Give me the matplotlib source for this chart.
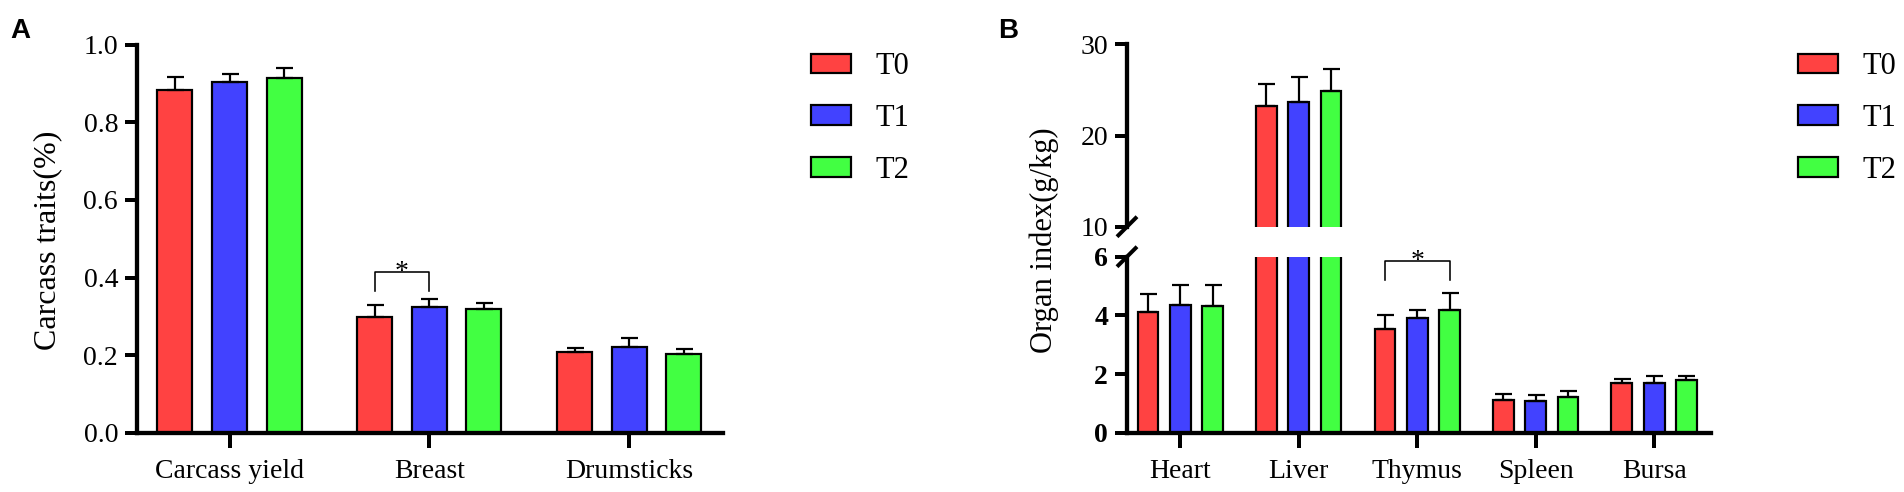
import matplotlib
matplotlib.use('Agg')
import matplotlib.pyplot as plt
import numpy as np
from matplotlib.lines import Line2D
from matplotlib.patches import Patch
from matplotlib.transforms import ScaledTranslation

# Carcass traits (panel A)
carcass_groups = ['Carcass yield', 'Breast', 'Drumsticks']
carcass_t0 = [0.882, 0.297, 0.209]
carcass_t1 = [0.903, 0.325, 0.220]
carcass_t2 = [0.913, 0.320, 0.204]
carcass_t0_sd = [0.035, 0.033, 0.010]
carcass_t1_sd = [0.022, 0.020, 0.023]
carcass_t2_sd = [0.028, 0.014, 0.012]

# Organ index (panel B)
organ_groups = ['Heart', 'Liver', 'Thymus', 'Spleen', 'Bursa']
organ_t0 = [4.11, 23.22, 3.52, 1.12, 1.68]
organ_t1 = [4.34, 23.66, 3.92, 1.09, 1.70]
organ_t2 = [4.31, 24.84, 4.18, 1.21, 1.80]
organ_t0_sd = [0.61, 2.42, 0.48, 0.21, 0.14]
organ_t1_sd = [0.70, 2.71, 0.27, 0.21, 0.22]
organ_t2_sd = [0.71, 2.41, 0.59, 0.20, 0.12]

series_names = ['T0', 'T1', 'T2']
colors = ['#FF4242', '#4242FF', '#42FF42']

# significance: (group index, series a, series b, bracket top, leg bottom)
carcass_sig = [(1, 0, 1, 0.413, 0.365)]
organ_sig = [(2, 0, 2, 5.87, 5.21)]

plt.rcParams['font.family'] = 'serif'
plt.rcParams['font.serif'] = ['Liberation Serif', 'DejaVu Serif']

W, H = 1904, 492
fig = plt.figure(figsize=(W / 100, H / 100), dpi=100)

def frac(x0, y0, x1, y1):
    return [x0 / W, 1 - y1 / H, (x1 - x0) / W, (y1 - y0) / H]

bw = 0.175
offs = [-0.273, 0.0, 0.273]
px = 72 / 100  # points per pixel

def style_axis(ax):
    for s in ['top', 'right']:
        ax.spines[s].set_visible(False)
    for s in ['left', 'bottom']:
        ax.spines[s].set_linewidth(4.3 * px)
    ax.tick_params(axis='y', length=12 * px, width=4 * px, labelsize=20, pad=5)
    ax.tick_params(axis='x', length=15 * px, width=4 * px, labelsize=20, pad=8)

def draw_bars(ax, means, sds):
    x = np.arange(len(means[0]))
    for i in range(3):
        ax.bar(x + offs[i], means[i], width=bw, color=colors[i], edgecolor='black',
               linewidth=2.2 * px, zorder=2, label=series_names[i])
        ax.errorbar(x + offs[i], means[i], yerr=[np.zeros(len(sds[i])), sds[i]], fmt='none',
                    ecolor='black', elinewidth=2.2 * px, capsize=8.5 * px, capthick=2.2 * px, zorder=3)
    return x

def draw_sig(ax, sigs):
    for g, a, b, top, leg in sigs:
        xa, xb = g + offs[a], g + offs[b]
        ax.plot([xa, xa, xb, xb], [leg, top, top, leg], color='black', lw=1.6 * px, zorder=4)
        ax.text((xa + xb) / 2, top, '*', ha='center', va='baseline', fontsize=20,
                transform=ax.transData + ScaledTranslation(0, -7 / 100, fig.dpi_scale_trans))

# ---------- Panel A ----------
axA = fig.add_axes(frac(137, 44.7, 723, 432.7))
style_axis(axA)
xA = draw_bars(axA, [carcass_t0, carcass_t1, carcass_t2], [carcass_t0_sd, carcass_t1_sd, carcass_t2_sd])
axA.set_xlim(-0.463, 2.47)
axA.set_ylim(0, 1.0)
axA.set_yticks(np.arange(0, 1.01, 0.2))
axA.set_yticklabels(['%.1f' % v for v in np.arange(0, 1.01, 0.2)])
axA.set_xticks(xA)
axA.set_xticklabels(carcass_groups)
draw_sig(axA, carcass_sig)
fig.text(47.5 / W, 1 - 240 / H, 'Carcass traits(%)', rotation=90, ha='center', va='center', fontsize=23)

# ---------- Panel B (broken axis) ----------
axB_lo = fig.add_axes(frac(1127, 256.7, 1711, 432.7))
axB_hi = fig.add_axes(frac(1127, 44.3, 1711, 226.7))
organ_means = [organ_t0, organ_t1, organ_t2]
organ_sds = [organ_t0_sd, organ_t1_sd, organ_t2_sd]
for ax in (axB_lo, axB_hi):
    style_axis(ax)
    xB = draw_bars(ax, organ_means, organ_sds)
    ax.set_xlim(-0.45, 4.48)
axB_lo.set_ylim(0, 6)
axB_lo.set_yticks([0, 2, 4, 6])
axB_lo.set_yticklabels(['0', '2', '4', '6'], fontweight='bold')
axB_lo.set_xticks(xB)
axB_lo.set_xticklabels(organ_groups)
axB_hi.set_ylim(10, 30)
axB_hi.set_yticks([10, 20, 30])
axB_hi.spines['bottom'].set_visible(False)
axB_hi.tick_params(axis='x', bottom=False, labelbottom=False)
draw_sig(axB_lo, organ_sig)
fig.text(1044 / W, 1 - 240 / H, 'Organ index(g/kg)', rotation=90, ha='center', va='center', fontsize=22)

# break marks on the y axis
for ax, yv in ((axB_hi, 0), (axB_lo, 1)):
    t0 = ax.transAxes + ScaledTranslation(-10 / 100, -10 / 100, fig.dpi_scale_trans)
    t1 = ax.transAxes + ScaledTranslation(10 / 100, 10 / 100, fig.dpi_scale_trans)
    p0 = t0.transform((0, yv))
    p1 = t1.transform((0, yv))
    fig.add_artist(Line2D([p0[0], p1[0]], [p0[1], p1[1]], transform=None,
                          color='black', lw=4 * px, solid_capstyle='butt'))

# ---------- Legends ----------
handles = [Patch(facecolor=colors[i], edgecolor='black', linewidth=2.2 * px, label=series_names[i])
           for i in range(3)]
for lx in (811, 1798):
    fig.legend(handles=handles, loc='upper left', bbox_to_anchor=(lx / W, 1 - 52 / H),
               frameon=False, fontsize=22, handlelength=1.3, handleheight=0.6,
               handletextpad=0.8, labelspacing=0.75, borderpad=0, borderaxespad=0)

# panel letters
fig.text(10 / W, 1 - 38 / H, 'A', fontsize=20, fontweight='bold', family='Liberation Sans', va='baseline')
fig.text(998 / W, 1 - 38 / H, 'B', fontsize=20, fontweight='bold', family='Liberation Sans', va='baseline')

fig.savefig('out.png', dpi=100)
